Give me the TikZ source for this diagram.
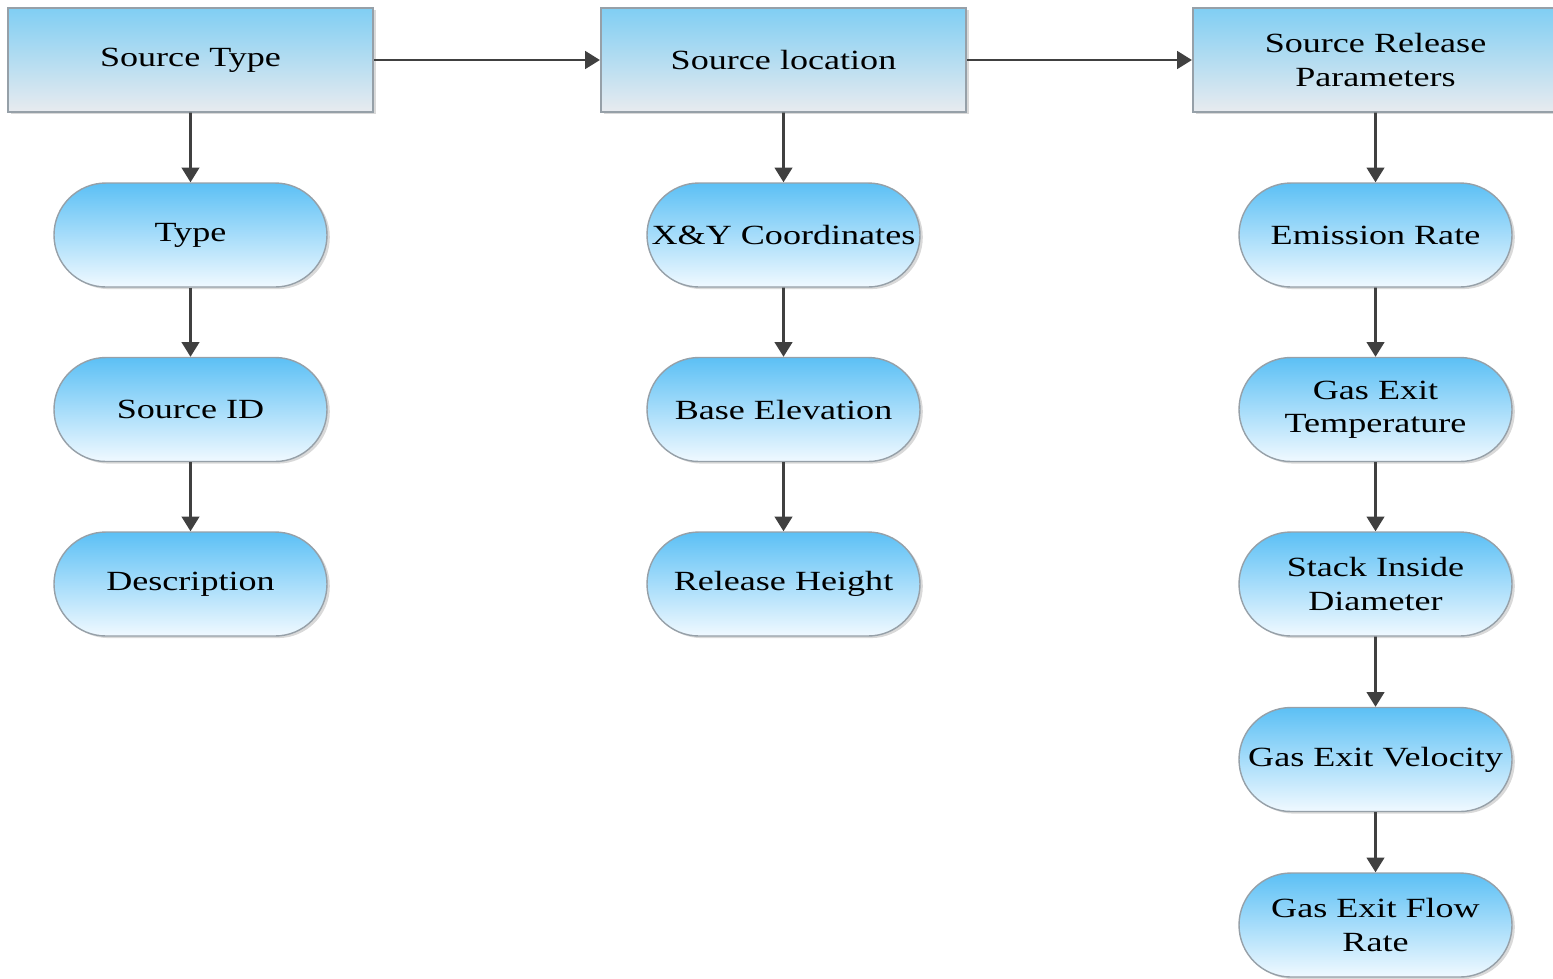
\documentclass[tikz,border=0pt]{standalone}
\usepackage{fontspec}
\setmainfont{Liberation Serif}
\usepackage{tikz}
\usetikzlibrary{arrows.meta,positioning,shadows}

\definecolor{boxtop}{RGB}{128,206,243}
\definecolor{boxbot}{RGB}{232,235,239}
\definecolor{pilltop}{RGB}{92,192,245}
\definecolor{pillbot}{RGB}{240,249,255}
\definecolor{edgegray}{RGB}{150,160,168}
\definecolor{arrowgray}{RGB}{64,64,64}

\begin{document}
\begin{tikzpicture}[
    >={Triangle[length=4.2pt,width=5pt]},
    headbox/.style={draw=edgegray, top color=boxtop, bottom color=boxbot, xscale=1.3, minimum width=2.81cm, minimum height=1.04cm, inner sep=0pt, align=center, font=\fontsize{7.9}{9.4}\selectfont, drop shadow={opacity=0.3, shadow xshift=0.8pt, shadow yshift=-0.6pt}},
    pillbox/.style={draw=edgegray, top color=pilltop, bottom color=pillbot, rounded corners=0.52cm, xscale=1.3, minimum width=2.10cm, minimum height=1.04cm, inner sep=0pt, align=center, font=\fontsize{7.9}{9.4}\selectfont, drop shadow={opacity=0.3, shadow xshift=0.8pt, shadow yshift=-0.6pt}},
    link/.style={->, draw=arrowgray, line width=0.75pt}
]
\useasboundingbox (0,0) rectangle (15.53,-9.78);

% top row
\node[headbox] (stype) at (1.905,-0.60) {Source Type};
\node[headbox] (sloc) at (7.835,-0.60) {Source location};
\node[headbox] (srel) at (13.755,-0.60) {Source Release\\Parameters};

% source type column
\node[pillbox] (type) at (1.905,-2.35) {Type};
\node[pillbox] (sid) at (1.905,-4.095) {Source ID};
\node[pillbox] (desc) at (1.905,-5.84) {Description};

% location column
\node[pillbox] (xy) at (7.835,-2.35) {X\&Y Coordinates};
\node[pillbox] (base) at (7.835,-4.095) {Base Elevation};
\node[pillbox] (rheight) at (7.835,-5.84) {Release Height};

% release parameters column
\node[pillbox] (erate) at (13.755,-2.35) {Emission Rate};
\node[pillbox] (gtemp) at (13.755,-4.095) {Gas Exit\\Temperature};
\node[pillbox] (sdiam) at (13.755,-5.84) {Stack Inside\\Diameter};
\node[pillbox] (gvel) at (13.755,-7.595) {Gas Exit Velocity};
\node[pillbox] (gflow) at (13.755,-9.25) {Gas Exit Flow\\Rate};

\draw[link] (stype) -- (sloc);
\draw[link] (sloc) -- (srel);

\draw[link] (stype) -- (type);
\draw[link] (type) -- (sid);
\draw[link] (sid) -- (desc);

\draw[link] (sloc) -- (xy);
\draw[link] (xy) -- (base);
\draw[link] (base) -- (rheight);

\draw[link] (srel) -- (erate);
\draw[link] (erate) -- (gtemp);
\draw[link] (gtemp) -- (sdiam);
\draw[link] (sdiam) -- (gvel);
\draw[link] (gvel) -- (gflow);
\end{tikzpicture}
\end{document}
